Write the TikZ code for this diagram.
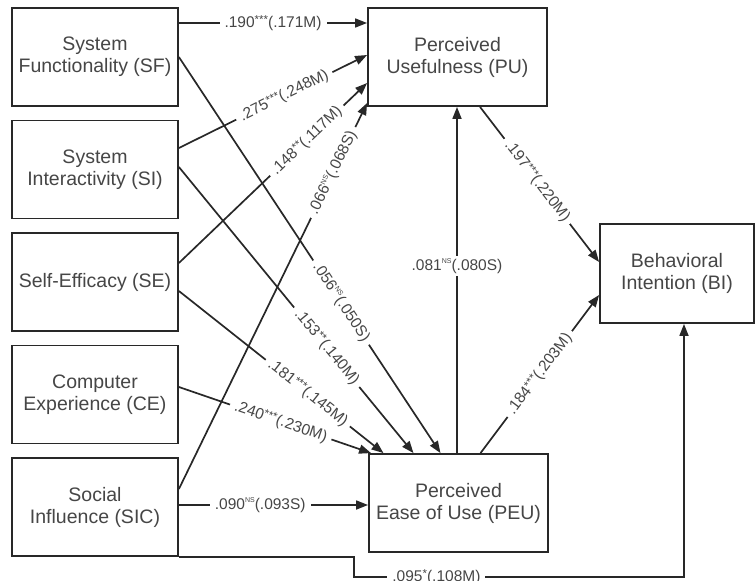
\documentclass[tikz,border=0pt]{standalone}
\usepackage{fontspec}
\setmainfont{Liberation Sans}
\usetikzlibrary{arrows.meta,calc}
\definecolor{ln}{RGB}{40,40,40}
\definecolor{tx}{RGB}{70,70,70}
\newcommand\starmark[1]{\raisebox{3.5pt}{\fontsize{11.5}{11.5}\selectfont #1}}
\newcommand\nsmark{\raisebox{6.3pt}{\fontsize{7}{7}\selectfont NS}}
\begin{document}
\begin{tikzpicture}[x=1pt,y=-1pt,
 box/.style={draw=ln, line width=1.8pt, fill=white, text=tx, align=center,
   minimum width=166pt, minimum height=98pt, font=\fontsize{19.5}{22}\selectfont, inner sep=0pt},
 conn/.style={draw=ln, line width=1.7pt, -{Triangle[length=12pt,width=9pt]}},
 labh/.style={fill=white, text=tx, font=\fontsize{15.5}{16}\selectfont, inner xsep=5pt, inner ysep=3pt},
 lab/.style={labh, sloped}]
\useasboundingbox (0,0) rectangle (756,581);
% boxes
\node[box] (SF) at (95,57) {System\\Functionality (SF)};
\node[box] (SI) at (95,169.5) {System\\Interactivity (SI)};
\node[box] (SE) at (95,282) {Self-Efficacy (SE)};
\node[box] (CE) at (95,394.5) {Computer\\Experience (CE)};
\node[box] (SIC) at (95,507) {Social\\Influence (SIC)};
\node[box, minimum width=179pt] (PU) at (457.5,57) {Perceived\\Usefulness (PU)};
\node[box, minimum width=179pt] (PEU) at (458.5,503) {Perceived\\Ease of Use (PEU)};
\node[box, minimum width=154pt, minimum height=99pt] (BI) at (677,273.5) {Behavioral\\Intention (BI)};
% connectors to PEU
\draw[conn] (SF.east) -- node[lab, pos=0.62]{.056\nsmark(.050S)} ($(PEU.north)+(-18,0)$);
\draw[conn] ($(SI.east)+(0,-2.5)$) -- node[lab, pos=0.63]{.153\starmark{**}(.140M)} ($(PEU.north)+(-45,0)$);
\draw[conn] ($(SE.east)+(0,9)$) -- node[lab, pos=0.63]{.181\starmark{***}(.145M)} ($(PEU.north)+(-75,0)$);
\draw[conn] ($(CE.east)+(0,-7.5)$) -- node[lab, pos=0.53]{.240\starmark{***}(.230M)} ($(PEU.north west)+(3,0)$);
\draw[conn] ($(SIC.east)+(0,-2)$) -- node[labh, pos=0.43]{.090\nsmark(.093S)} ($(PEU.west)+(0,2)$);
% connectors to PU
\draw[conn] ($(SF.east)+(0,-34)$) -- node[labh, pos=0.5]{.190\starmark{***}(.171M)} ($(PU.west)+(0,-34)$);
\draw[conn] ($(SI.east)+(0,-21.5)$) -- node[lab, pos=0.56]{.275\starmark{***}(.248M)} ($(PU.west)+(0,-2)$);
\draw[conn] ($(SE.east)+(0,-19)$) -- node[lab, pos=0.68]{.148\starmark{**}(.117M)} ($(PU.west)+(0,26)$);
\draw[conn] ($(SIC.east)+(0,-18)$) -- node[lab, pos=0.82]{.066\nsmark(.068S)} ($(PU.west)+(0,46)$);
\coordinate (v1) at ($(PEU.north)+(-1.5,0)$);
\draw[conn] (v1) -- node[labh, pos=0.54]{.081\nsmark(.080S)} (v1 |- PU.south);
% connectors to BI
\draw[conn] ($(PU.south)+(22.5,0)$) -- node[lab, pos=0.48]{.197\starmark{***}(.220M)} ($(BI.west)+(0,-11.5)$);
\draw[conn] ($(PEU.north)+(22,0)$) -- node[lab, pos=0.5]{.184\starmark{***}(.203M)} ($(BI.west)+(0,21.5)$);
\coordinate (k1) at ($(SIC.south east)+(175,0)$);
\coordinate (k2) at ($(k1)+(0,20)$);
\coordinate (k3) at ($(k2 -| BI.south)+(7,0)$);
\draw[conn] (SIC.south east) -- (k1) -- (k2) -- node[labh, pos=0.25]{.095\starmark{*}(.108M)} (k3) -- ($(BI.south)+(7,0)$);
\end{tikzpicture}
\end{document}
